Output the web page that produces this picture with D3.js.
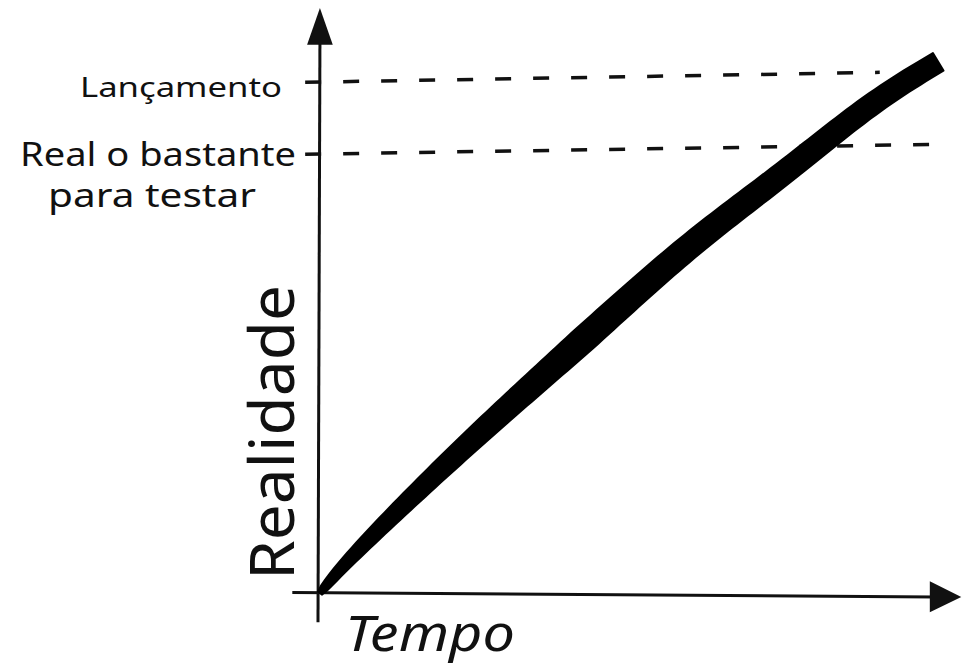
<!DOCTYPE html>
<html>
<head>
<meta charset="utf-8">
<script src="https://cdn.jsdelivr.net/npm/d3@7"></script>
<style>
  html, body { margin: 0; padding: 0; background: #fff; }
  svg { display: block; }
  text { font-family: "Noto Sans", "DejaVu Sans", sans-serif; fill: #111; }
</style>
</head>
<body>
<div id="chart"></div>
<script>
// Reality over time (hand-drawn curve)
const tempo     = [0.3, 5, 23.2, 41.3, 57.9, 72, 86, 96.6];
const realidade = [0, 6.2, 25.6, 43.2, 59.8, 71.1, 83.8, 90.8];

// Dashed reference levels (start / end height, slightly tilted)
const refLabels = ['Lançamento', 'Real o bastante|para testar'];
const refStart  = [87.3, 75.0];
const refEnd    = [89.0, 76.7];
const refEndT   = [87.5, 96.5];

const width = 963, height = 668;

const svg = d3.select('#chart')
  .append('svg')
  .attr('width', width)
  .attr('height', height);

// Scales: origin at the axes crossing
const x = d3.scaleLinear().domain([0, 100]).range([318, 960]);
const y = d3.scaleLinear().domain([0, 100]).range([593, 8]);

// Dashed reference lines
refLabels.forEach((lab, i) => {
  svg.append('line')
    .attr('x1', x(-2)).attr('y1', y(refStart[i]))
    .attr('x2', x(refEndT[i])).attr('y2', y(refEnd[i]))
    .attr('stroke', '#111')
    .attr('stroke-width', 3.5)
    .attr('stroke-dasharray', '16 22');
});

// Axes
svg.append('line')
  .attr('x1', x(0)).attr('y1', y(-5))
  .attr('x2', x(0.3)).attr('y2', y(94))
  .attr('stroke', '#111').attr('stroke-width', 3);
svg.append('path')
  .attr('d', `M${x(0.3)},${y(100)} L${x(-1.7)},${y(93.7)} L${x(2.3)},${y(93.7)} Z`)
  .attr('fill', '#111');

svg.append('line')
  .attr('x1', x(-4)).attr('y1', y(0.1))
  .attr('x2', x(96)).attr('y2', y(-0.7))
  .attr('stroke', '#111').attr('stroke-width', 3);
svg.append('path')
  .attr('d', `M${x(100.2)},${y(-0.7)} L${x(95.3)},${y(2)} L${x(95.3)},${y(-3.3)} Z`)
  .attr('fill', '#111');

// Thick tapered stroke for the reality curve
const pts = tempo.map((t, i) => [x(t), y(realidade[i])]);
const smooth = d3.line().curve(d3.curveBasis);
const tmp = svg.append('path').attr('d', smooth(pts)).attr('fill', 'none');
const node = tmp.node();
const total = node.getTotalLength();
const left = [], right = [];
const n = 120;
for (let k = 0; k <= n; k++) {
  const s = k / n;
  const p = node.getPointAtLength(s * total);
  const q = node.getPointAtLength(Math.min(total, s * total + 1));
  const p0 = node.getPointAtLength(Math.max(0, s * total - 1));
  let dx = q.x - p0.x, dy = q.y - p0.y;
  const len = Math.hypot(dx, dy) || 1;
  dx /= len; dy /= len;
  const w = s < 0.45 ? 5 + Math.sqrt(s / 0.45) * 21 : 26 - (s - 0.45) * 10;
  left.push([p.x - dy * w / 2, p.y + dx * w / 2]);
  right.push([p.x + dy * w / 2, p.y - dx * w / 2]);
}
tmp.remove();
svg.append('path')
  .attr('d', d3.line()(left.concat(right.reverse())) + 'Z')
  .attr('fill', '#000')
  .attr('stroke', '#000')
  .attr('stroke-width', 2)
  .attr('stroke-linejoin', 'round');

// Reference labels
svg.append('text')
  .attr('x', 282).attr('y', 97)
  .attr('text-anchor', 'end')
  .attr('font-size', 27)
  .attr('textLength', 202)
  .attr('lengthAdjust', 'spacingAndGlyphs')
  .text('Lançamento');

const parts = refLabels[1].split('|');
svg.append('text')
  .attr('x', 296).attr('y', 166)
  .attr('text-anchor', 'end')
  .attr('font-size', 33)
  .attr('textLength', 276)
  .attr('lengthAdjust', 'spacingAndGlyphs')
  .text(parts[0]);
svg.append('text')
  .attr('x', 48).attr('y', 207)
  .attr('font-size', 33)
  .attr('textLength', 208)
  .attr('lengthAdjust', 'spacingAndGlyphs')
  .text(parts[1]);

// Axis titles
svg.append('text')
  .attr('transform', 'translate(294,580) rotate(-90)')
  .attr('font-size', 62)
  .attr('textLength', 295)
  .attr('lengthAdjust', 'spacingAndGlyphs')
  .text('Realidade');

svg.append('text')
  .attr('x', 345).attr('y', 651)
  .attr('font-size', 50)
  .attr('font-style', 'italic')
  .attr('textLength', 170)
  .attr('lengthAdjust', 'spacingAndGlyphs')
  .text('Tempo');
</script>
</body>
</html>
